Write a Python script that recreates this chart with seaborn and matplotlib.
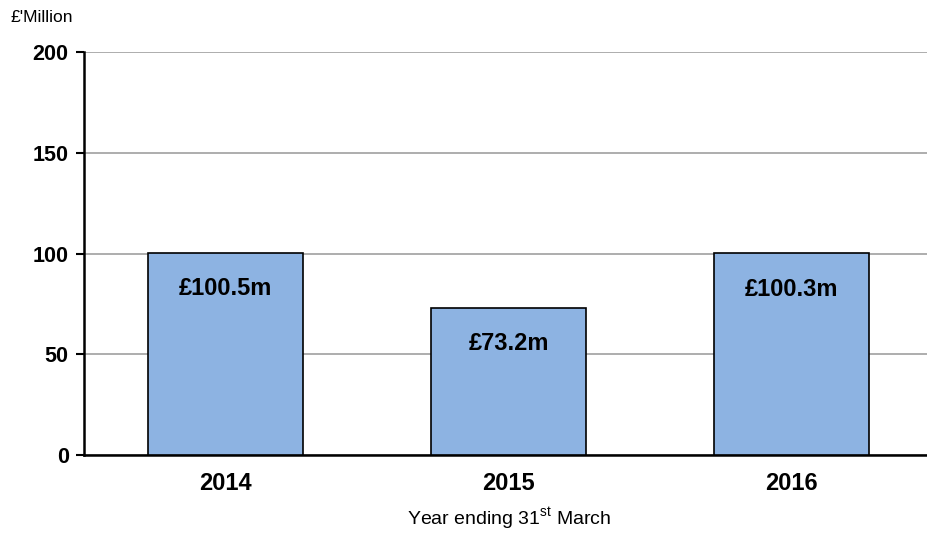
import pandas as pd
import matplotlib.pyplot as plt
import seaborn as sns

years = ["2014", "2015", "2016"]
spend = [100.5, 73.2, 100.3]
labels = ["£100.5m", "£73.2m", "£100.3m"]

sns.set_style("white")
plt.rcParams['font.family'] = ['Liberation Sans', 'DejaVu Sans']
plt.rcParams['text.color'] = 'black'
plt.rcParams['xtick.color'] = 'black'
plt.rcParams['ytick.color'] = 'black'
plt.rcParams['axes.labelcolor'] = 'black'

data = pd.DataFrame({"year": years, "spend": spend})

fig = plt.figure(figsize=(9.27, 5.35), dpi=100)
ax = fig.add_axes([0.0906, 0.1495, 0.916, 0.7533])

sns.barplot(data=data, x="year", y="spend", color="#8DB3E2", saturation=1,
            width=0.55, edgecolor="black", linewidth=1.2, ax=ax, zorder=3)

# value labels inside the bars
for i, (v, lab) in enumerate(zip(spend, labels)):
    ax.annotate(lab, (i, v), xytext=(0, -26), textcoords="offset points",
                ha="center", va="center", fontsize=17, fontweight="bold")

ax.set_ylim(0, 200)
ax.set_xlim(-0.5, 2.5)
ax.set_yticks([0, 50, 100, 150, 200])
ax.yaxis.grid(True, color="#A0A0A0", linewidth=1.2, zorder=0)
ax.set_axisbelow(True)

for s in ["top", "right"]:
    ax.spines[s].set_visible(False)
ax.spines["left"].set_linewidth(1.8)
ax.spines["bottom"].set_linewidth(1.8)
ax.spines["left"].set_color("black")
ax.spines["bottom"].set_color("black")

# tick marks between categories, labels centred
ax.set_xticks([-0.5, 0.5, 1.5, 2.5], minor=True)
ax.tick_params(axis="x", which="major", length=0, pad=12, labelsize=17)
ax.tick_params(axis="x", which="minor", length=6, width=1.5, color="black", direction="out")
ax.tick_params(axis="y", length=6, width=1.5, color="black", direction="out", pad=5,
               left=True, labelsize=15.5)
for t in ax.get_xticklabels() + ax.get_yticklabels():
    t.set_fontweight("bold")

ax.set_xlabel("Year ending 31$^{\\mathregular{st}}$ March", fontsize=14, labelpad=8)
ax.set_ylabel("")
fig.text(0.011, 0.967, "£'Million", fontsize=12.5, ha="left", va="center")

fig.savefig("out.png", dpi=100)
